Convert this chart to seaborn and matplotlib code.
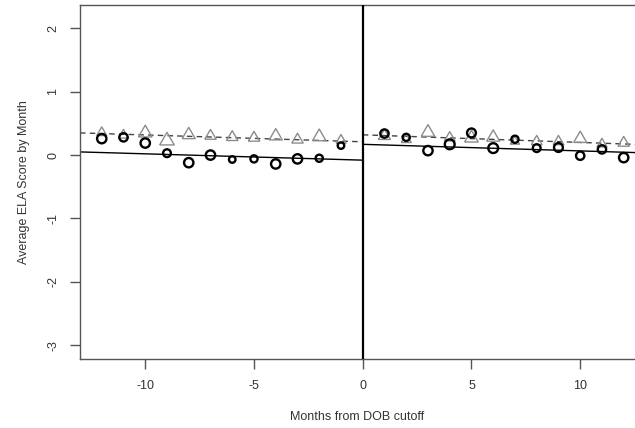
import numpy as np
import pandas as pd
import matplotlib
matplotlib.use("Agg")
import matplotlib.pyplot as plt
import seaborn as sns

# ---- data ----
months_left = [-12, -11, -10, -9, -8, -7, -6, -5, -4, -3, -2, -1]
months_right = [1, 2, 3, 4, 5, 6, 7, 8, 9, 10, 11, 12]

circle_left = [0.26, 0.28, 0.19, 0.03, -0.12, 0.00, -0.07, -0.06, -0.14, -0.06, -0.05, 0.15]
circle_right = [0.34, 0.28, 0.07, 0.17, 0.35, 0.11, 0.25, 0.11, 0.12, -0.01, 0.09, -0.04]
triangle_left = [0.37, 0.33, 0.37, 0.25, 0.34, 0.32, 0.30, 0.29, 0.32, 0.26, 0.31, 0.25]
triangle_right = [0.32, 0.26, 0.38, 0.29, 0.29, 0.30, 0.23, 0.23, 0.23, 0.28, 0.19, 0.21]

# relative weights (marker size encodes cell size)
circle_w_left = [28, 24, 28, 22, 28, 28, 18, 20, 28, 28, 20, 18]
circle_w_right = [24, 20, 28, 30, 26, 30, 20, 22, 26, 24, 24, 28]
triangle_w_left = [28, 28, 40, 44, 38, 32, 32, 32, 38, 32, 40, 28]
triangle_w_right = [34, 28, 40, 30, 40, 38, 26, 30, 30, 38, 28, 32]

# fitted lines (intercept at cutoff, slope per month)
solid_left = (-0.08, -0.0100)
dash_left = (0.21, -0.0108)
solid_right = (0.17, -0.0104)
dash_right = (0.32, -0.0120)

x_ticks = [-10, -5, 0, 5, 10]
y_ticks = [-3, -2, -1, 0, 1, 2]
x_label = "Months from DOB cutoff"
y_label = "Average ELA Score by Month"

# ---- figure ----
sns.set_style("white")
plt.rcParams["font.family"] = ["Liberation Sans", "DejaVu Sans"]

fig = plt.figure(figsize=(6.35, 4.28), dpi=100)
ax = fig.add_axes([80 / 635, 69 / 428, 555 / 635, 354 / 428])

XMIN, XMAX = -13.0, 12.52
YMIN, YMAX = -3.22, 2.37

tri = pd.DataFrame({
    "x": months_left + months_right,
    "y": triangle_left + triangle_right,
    "w": triangle_w_left + triangle_w_right,
})
cir = pd.DataFrame({
    "x": months_left + months_right,
    "y": circle_left + circle_right,
    "w": circle_w_left + circle_w_right,
})

tri_marker = [(-1.0, -0.78), (1.0, -0.78), (0.0, 0.95), (-1.0, -0.78)]

sns.scatterplot(data=tri, x="x", y="y", size="w", sizes=(45, 110), marker=tri_marker,
                color="#8c8c8c", linewidth=1.0, legend=False, ax=ax, zorder=3)
coll = ax.collections[-1]
coll.set_facecolor("none")
coll.set_edgecolor("#8c8c8c")

sns.scatterplot(data=cir, x="x", y="y", size="w", sizes=(22, 50), marker="o",
                color="black", linewidth=1.7, legend=False, ax=ax, zorder=4)
coll = ax.collections[-1]
coll.set_facecolor("none")
coll.set_edgecolor("black")

def line_df(params, x0, x1):
    b, m = params
    xs = np.array([x0, x1])
    return pd.DataFrame({"x": xs, "y": b + m * xs})

for params, x0, x1, ls, col in [
    (solid_left, XMIN, 0, "-", "black"),
    (dash_left, XMIN, 0, (0, (4, 3)), "#444444"),
    (solid_right, 0, XMAX, "-", "black"),
    (dash_right, 0, XMAX, (0, (4, 3)), "#444444"),
]:
    d = line_df(params, x0, x1)
    sns.lineplot(data=d, x="x", y="y", ax=ax, color=col, linewidth=1.0,
                 linestyle=ls, zorder=2)

ax.axvline(0, color="black", linewidth=1.6, zorder=5)

ax.set_xlim(XMIN, XMAX)
ax.set_ylim(YMIN, YMAX)
ax.set_xticks(x_ticks)
ax.set_yticks(y_ticks)
ax.set_xticklabels([str(t) for t in x_ticks])
ax.set_yticklabels([str(t) for t in y_ticks], rotation=90, va="center")

for side in ["left", "bottom", "top"]:
    ax.spines[side].set_color("#555555")
    ax.spines[side].set_linewidth(1.0)
ax.spines["right"].set_visible(False)

ax.tick_params(axis="both", direction="out", length=7, width=1.0, color="#555555",
               labelcolor="#333333", labelsize=9, pad=8, left=True, bottom=True)
ax.set_xlabel(x_label, fontsize=9, color="#333333", labelpad=14)
ax.set_ylabel(y_label, fontsize=9, color="#333333", labelpad=12)

fig.savefig("out.png", dpi=100)
